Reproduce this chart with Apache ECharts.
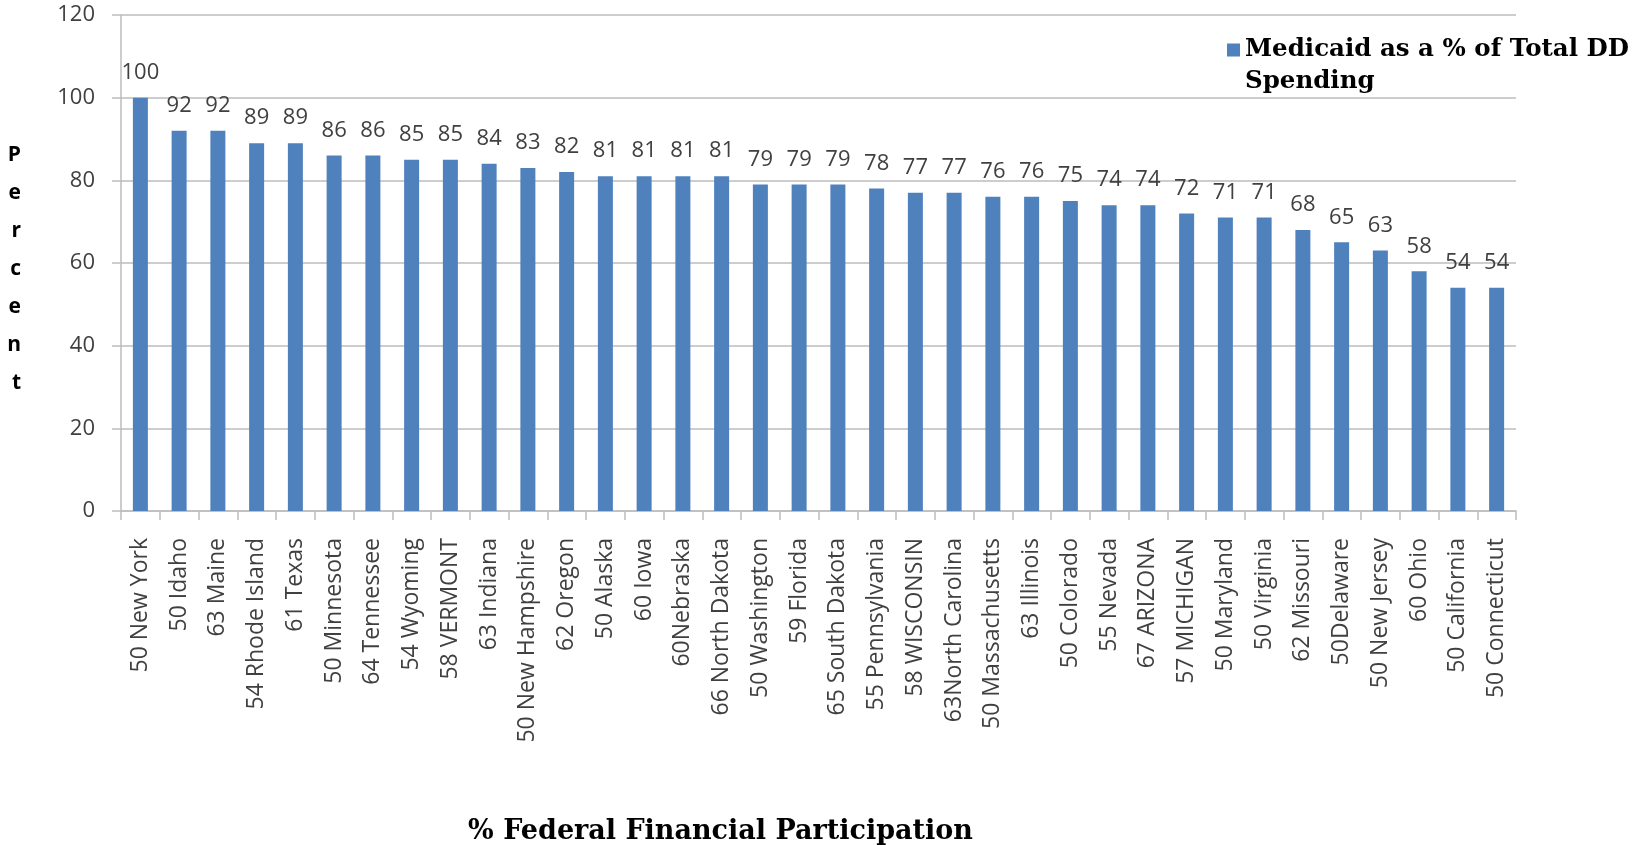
<!DOCTYPE html>
<html>
<head>
<meta charset="utf-8">
<script src="https://cdn.jsdelivr.net/npm/echarts@6/dist/echarts.min.js"></script>
<style>
html,body{margin:0;padding:0;background:#fff;}
#chart{width:1647px;height:845px;}
</style>
</head>
<body>
<div id="chart"></div>
<script>
const categories = ["50 New York","50 Idaho","63 Maine","54 Rhode Island","61 Texas","50 Minnesota","64 Tennessee","54 Wyoming","58 VERMONT","63 Indiana","50 New Hampshire","62 Oregon","50 Alaska","60 Iowa","60Nebraska","66 North Dakota","50 Washington","59 Florida","65 South Dakota","55 Pennsylvania","58 WISCONSIN","63North Carolina","50 Massachusetts","63 Illinois","50 Colorado","55 Nevada","67 ARIZONA","57 MICHIGAN","50 Maryland","50 Virginia","62 Missouri","50Delaware","50 New Jersey","60 Ohio","50 California","50 Connecticut"];
const medicaidPct = [100,92,92,89,89,86,86,85,85,84,83,82,81,81,81,81,79,79,79,78,77,77,76,76,75,74,74,72,71,71,68,65,63,58,54,54];
const seriesName = "Medicaid as a % of Total DD Spending";
const yAxisTitle = "Percent";
const xAxisTitle = "% Federal Financial Participation";

const chart = echarts.init(document.getElementById('chart'));
const gridColor = '#bdbdbd';
const textColor = '#404040';
chart.setOption({
  animation: false,
  backgroundColor: '#fff',
  grid: {left: 121, right: 131, top: 15, bottom: 334, outerBoundsMode: 'none', containLabel: false},
  legend: {
    show: true,
    left: 1227,
    top: 2,
    padding: 0,
    itemWidth: 13,
    itemHeight: 13,
    itemGap: 0,
    icon: 'rect',
    data: [seriesName],
    formatter: function(n){ return '\n' + n.replace(' Spending', '\nSpending'); },
    textStyle: {
      fontFamily: 'DejaVu Serif',
      fontWeight: 'bold',
      fontSize: 24.5,
      color: '#000',
      lineHeight: 32
    }
  },
  xAxis: {
    type: 'category',
    data: categories,
    name: xAxisTitle,
    nameLocation: 'middle',
    nameGap: 307,
    nameTextStyle: {
      fontFamily: 'DejaVu Serif',
      fontWeight: 'bold',
      fontSize: 27,
      color: '#000',
      padding: [0, 196, 0, 0]
    },
    axisLine: {show: true, lineStyle: {color: gridColor, width: 1.5}},
    axisTick: {show: true, length: 9, alignWithLabel: false, lineStyle: {color: gridColor, width: 1.5}},
    axisLabel: {
      interval: 0,
      rotate: 90,
      margin: 27,
      fontFamily: 'Open Sans',
      fontSize: 23,
      color: textColor
    },
    splitLine: {show: false}
  },
  yAxis: {
    type: 'value',
    min: 0,
    max: 120,
    interval: 20,
    name: '{s|}\n' + yAxisTitle.split('').map(function(c){ return '{l|' + c + '}'; }).join('\n'),
    nameLocation: 'middle',
    nameRotate: 0,
    nameGap: 100,
    nameTextStyle: {
      fontFamily: 'Open Sans',
      fontWeight: 'bold',
      fontSize: 21,
      color: '#000',
      rich: {
        s: {lineHeight: 12, fontSize: 12},
        l: {lineHeight: 38, fontSize: 21, fontWeight: 'bold', fontFamily: 'Open Sans', color: '#000'}
      }
    },
    axisLine: {show: true, lineStyle: {color: gridColor, width: 1.5}},
    axisTick: {show: true, length: 9, lineStyle: {color: gridColor, width: 1.5}},
    axisLabel: {
      margin: 26,
      fontFamily: 'Open Sans',
      fontSize: 22,
      color: textColor
    },
    splitLine: {show: true, lineStyle: {color: gridColor, width: 1.5}}
  },
  series: [{
    name: seriesName,
    type: 'bar',
    data: medicaidPct,
    barWidth: 15,
    itemStyle: {color: '#4F81BD'},
    label: {
      show: true,
      position: 'top',
      distance: 14,
      fontFamily: 'Open Sans',
      fontSize: 22,
      color: textColor
    }
  }]
});
</script>
</body>
</html>
